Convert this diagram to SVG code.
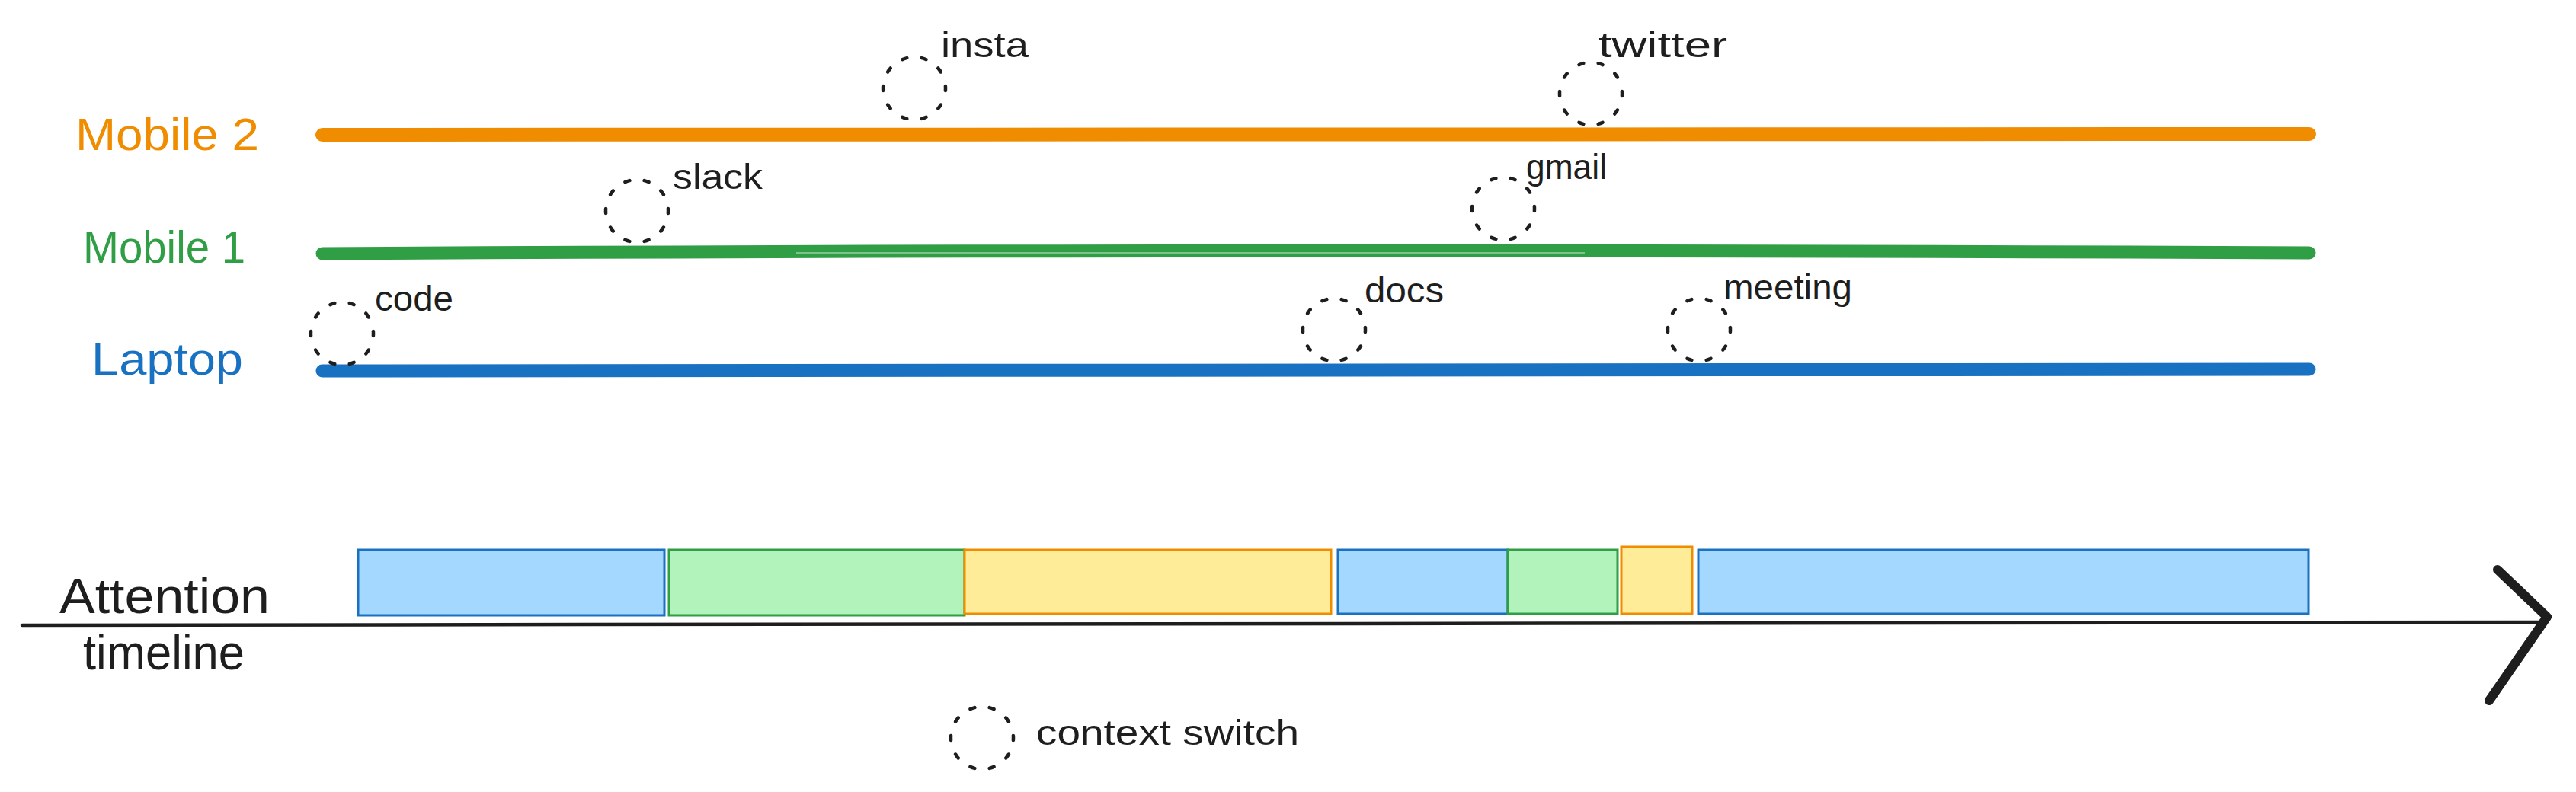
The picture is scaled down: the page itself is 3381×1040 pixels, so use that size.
<svg xmlns="http://www.w3.org/2000/svg" width="3381" height="1040" viewBox="0 0 3381 1040">
<style>
  .bg { fill: #ffffff; }
  .lbl { font-family: "Liberation Sans", Arial, sans-serif; fill: #1e1e1e; }
  .sm { font-size: 46px; }
  .big { font-size: 60px; }
  .tl { font-size: 64px; }
  .sw { fill: none; stroke: #1e1e1e; stroke-width: 4.5; stroke-linecap: round; stroke-dasharray: 2.4 7.6; stroke-dashoffset: 1.2; }
  .lane { fill: none; stroke-linecap: round; }
  .blue { fill: #a5d8ff; stroke: #1971c2; stroke-width: 3; }
  .green { fill: #b2f2bb; stroke: #2f9e44; stroke-width: 3; }
  .yellow { fill: #ffec99; stroke: #f08c00; stroke-width: 3; }
</style>
<rect class="bg" x="0" y="0" width="3381" height="1040"/>

<g id="lane-mobile2">
  <text class="lbl big" x="99" y="197" style="fill:#f08c00" textLength="241" lengthAdjust="spacingAndGlyphs">Mobile 2</text>
  <path class="lane" d="M423,177 Q1700,174 3031,176" stroke="#f08c00" stroke-width="18"/>
</g>
<g id="lane-mobile1">
  <text class="lbl big" x="109" y="345" style="fill:#2f9e44" textLength="213" lengthAdjust="spacingAndGlyphs">Mobile 1</text>
  <path class="lane" d="M423,333 Q1700,326 3031,332" stroke="#2f9e44" stroke-width="17"/>
  <path d="M1045,332 L2080,332" stroke="#ffffff" stroke-opacity="0.5" stroke-width="1.5" fill="none"/>
</g>
<g id="lane-laptop">
  <text class="lbl big" x="120" y="492" style="fill:#1971c2" textLength="199" lengthAdjust="spacingAndGlyphs">Laptop</text>
  <path class="lane" d="M423,487 Q1700,490 3031,485" stroke="#1971c2" stroke-width="17"/>
</g>

<g id="switch-insta">
  <circle class="sw" cx="1200" cy="116" r="41" pathLength="100"/>
  <text class="lbl sm" x="1235" y="75" textLength="115" lengthAdjust="spacingAndGlyphs">insta</text>
</g>
<g id="switch-twitter">
  <circle class="sw" cx="2088" cy="123" r="41" pathLength="100"/>
  <text class="lbl sm" x="2098" y="75" textLength="169" lengthAdjust="spacingAndGlyphs">twitter</text>
</g>
<g id="switch-slack">
  <circle class="sw" cx="836" cy="277" r="41" pathLength="100"/>
  <text class="lbl sm" x="883" y="248" textLength="118" lengthAdjust="spacingAndGlyphs">slack</text>
</g>
<g id="switch-gmail">
  <circle class="sw" cx="1973" cy="274" r="41" pathLength="100"/>
  <text class="lbl sm" x="2003" y="235" textLength="106" lengthAdjust="spacingAndGlyphs">gmail</text>
</g>
<g id="switch-code">
  <circle class="sw" cx="449" cy="438" r="41" pathLength="100"/>
  <text class="lbl sm" x="492" y="408" textLength="103" lengthAdjust="spacingAndGlyphs">code</text>
</g>
<g id="switch-docs">
  <circle class="sw" cx="1751" cy="433" r="41" pathLength="100"/>
  <text class="lbl sm" x="1791" y="397" textLength="104" lengthAdjust="spacingAndGlyphs">docs</text>
</g>
<g id="switch-meeting">
  <circle class="sw" cx="2230" cy="433" r="41" pathLength="100"/>
  <text class="lbl sm" x="2262" y="393" textLength="169" lengthAdjust="spacingAndGlyphs">meeting</text>
</g>

<g id="attention-blocks">
  <rect class="blue" x="470" y="722" width="402" height="86"/>
  <rect class="green" x="878" y="722" width="388" height="86"/>
  <rect class="yellow" x="1266" y="722" width="481" height="84"/>
  <rect class="blue" x="1756" y="722" width="223" height="84"/>
  <rect class="green" x="1979" y="722" width="144" height="84"/>
  <rect class="yellow" x="2128" y="718" width="93" height="88"/>
  <rect class="blue" x="2229" y="722" width="801" height="84"/>
</g>

<g id="timeline-label">
  <text class="lbl tl" x="78" y="805" textLength="276" lengthAdjust="spacingAndGlyphs">Attention</text>
  <text class="lbl tl" x="109" y="879" textLength="212" lengthAdjust="spacingAndGlyphs">timeline</text>
</g>

<g id="connectors">
  <path d="M29,821 Q1700,812 3338,817" fill="none" stroke="#1e1e1e" stroke-width="4.5" stroke-linecap="round"/>
  <path d="M3278,748 L3343,810 L3267,920" fill="none" stroke="#1e1e1e" stroke-width="12" stroke-linecap="round" stroke-linejoin="round"/>
</g>

<g id="legend">
  <circle class="sw" cx="1289" cy="969" r="41" pathLength="100"/>
  <text class="lbl sm" x="1360" y="978" textLength="345" lengthAdjust="spacingAndGlyphs">context switch</text>
</g>
</svg>
